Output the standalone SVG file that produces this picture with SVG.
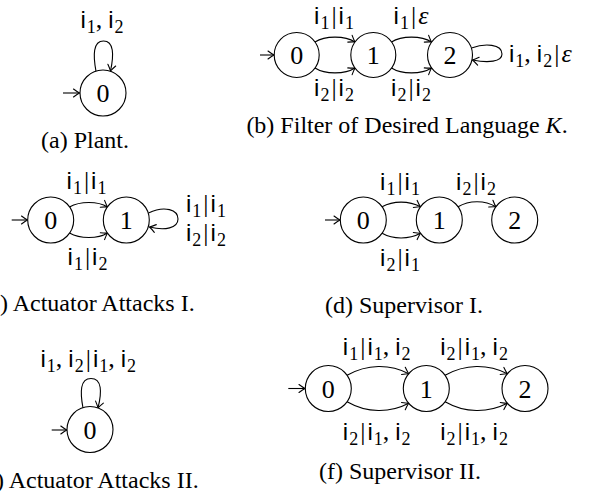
<svg xmlns="http://www.w3.org/2000/svg" width="598" height="497" viewBox="0 0 598 497">
<style>
.st{fill:none;stroke:#000;stroke-width:1.1}
.nd{fill:#fff;stroke:#000;stroke-width:1.1}
.nl{font-family:"Liberation Serif",serif;font-size:26px;text-anchor:middle;fill:#000}
.m{font-family:"Liberation Serif",serif;font-size:26px;fill:#000}
.i{font-family:"Liberation Sans",sans-serif;font-size:24px}
.s{font-family:"Liberation Serif",serif;font-size:18px}
.e{font-style:italic}
.cap{font-family:"Liberation Serif",serif;font-size:24px;fill:#000}
</style>
<defs>
<marker id="ah" viewBox="-8 -5 10 10" refX="0" refY="0" markerWidth="10" markerHeight="10" markerUnits="userSpaceOnUse" orient="auto">
<path d="M -6 -4 Q -2 -1 0 0 Q -2 1 -6 4" fill="none" stroke="#000" stroke-width="1.1" stroke-linecap="round"/>
</marker>
</defs>

<g id="connectors" class="st" marker-end="url(#ah)">
<path d="M 63 93 L 79.5 93"/>
<path d="M 96 71.3 C 93 55 93 41 103.5 41 C 114 41 114 55 110.5 71"/>
<path d="M 260 55 L 274 55"/>
<path d="M 315 42 C 325 35.5 345 35.5 355 42"/>
<path d="M 315 68 C 325 74.5 345 74.5 355 68"/>
<path d="M 391.5 42 C 401.5 35.5 421.5 35.5 431.5 42"/>
<path d="M 391.5 68 C 401.5 74.5 421.5 74.5 431.5 68"/>
<path d="M 471.5 48 C 485 43 502 44 502 54 C 502 62 488 63 472.5 60"/>
<path d="M 11.7 220 L 27.5 220"/>
<path d="M 69.5 207 C 80 201 98 201 107.5 207"/>
<path d="M 69.5 233 C 80 239 98 239 107.5 233"/>
<path d="M 148.5 213 C 165 205 178 210 178 219 C 178 228 165 231 149.5 227"/>
<path d="M 325 220 L 340 220"/>
<path d="M 382.1 206.8 C 393 200.5 409 200.5 420.5 206.8"/>
<path d="M 382.1 233.2 C 393 239.5 409 239.5 420.5 233.2"/>
<path d="M 458.1 206.8 C 469 200 485 200 495.9 206.8"/>
<path d="M 51.7 430 L 66.8 430"/>
<path d="M 83 408 C 80 392 80 378.5 91 378.5 C 102 378.5 102 392 98 407.9"/>
<path d="M 288.3 388.5 L 305 388.5"/>
<path d="M 347.1 375.3 C 367 363.8 390 363.8 408.7 373.7"/>
<path d="M 347.1 401.7 C 367 413.2 390 413.2 408.7 403.3"/>
<path d="M 445.1 375.3 C 465 363.8 488 363.8 507.4 373.7"/>
<path d="M 445.1 401.7 C 465 413.2 488 413.2 507.4 403.3"/>
</g>

<g id="a-n0"><circle class="nd" cx="103" cy="93" r="23"/><text class="nl" x="103" y="102">0</text></g>
<g id="a-labels">
<text class="m" x="102" y="28" text-anchor="middle"><tspan class="i">i</tspan><tspan class="s" dx="1" dy="5">1</tspan><tspan dy="-5">,</tspan><tspan class="i" dx="6">i</tspan><tspan class="s" dx="1" dy="5">2</tspan></text>
</g>
<text class="cap" x="85" y="148" text-anchor="middle">(a) Plant.</text>

<g id="b-n0"><circle class="nd" cx="296.7" cy="55" r="22.5"/><text class="nl" x="296.7" y="64">0</text></g>
<g id="b-n1"><circle class="nd" cx="373.3" cy="55" r="22.5"/><text class="nl" x="373.3" y="64">1</text></g>
<g id="b-n2"><circle class="nd" cx="450" cy="55" r="22.5"/><text class="nl" x="450" y="64">2</text></g>
<g id="b-labels">
<text class="m" x="334" y="24" text-anchor="middle"><tspan class="i">i</tspan><tspan class="s" dx="1" dy="5">1</tspan><tspan dx="2" dy="-5">|</tspan><tspan class="i" dx="2">i</tspan><tspan class="s" dx="1" dy="5">1</tspan></text>
<text class="m" x="411" y="24" text-anchor="middle"><tspan class="i">i</tspan><tspan class="s" dx="1" dy="5">1</tspan><tspan dx="2" dy="-5">|</tspan><tspan class="e" dx="2">ε</tspan></text>
<text class="m" x="334" y="96" text-anchor="middle"><tspan class="i">i</tspan><tspan class="s" dx="1" dy="5">2</tspan><tspan dx="2" dy="-5">|</tspan><tspan class="i" dx="2">i</tspan><tspan class="s" dx="1" dy="5">2</tspan></text>
<text class="m" x="411" y="96" text-anchor="middle"><tspan class="i">i</tspan><tspan class="s" dx="1" dy="5">2</tspan><tspan dx="2" dy="-5">|</tspan><tspan class="i" dx="2">i</tspan><tspan class="s" dx="1" dy="5">2</tspan></text>
<text class="m" x="509" y="62"><tspan class="i">i</tspan><tspan class="s" dx="1" dy="5">1</tspan><tspan dy="-5">,</tspan><tspan class="i" dx="6">i</tspan><tspan class="s" dx="1" dy="5">2</tspan><tspan dx="2" dy="-5">|</tspan><tspan class="e" dx="2">ε</tspan></text>
</g>
<text class="cap" x="407" y="133" text-anchor="middle">(b) Filter of Desired Language <tspan font-style="italic">K</tspan>.</text>

<g id="c-n0"><circle class="nd" cx="50.7" cy="220" r="23"/><text class="nl" x="50.7" y="229">0</text></g>
<g id="c-n1"><circle class="nd" cx="126.3" cy="220" r="23"/><text class="nl" x="126.3" y="229">1</text></g>
<g id="c-labels">
<text class="m" x="86.5" y="189" text-anchor="middle"><tspan class="i">i</tspan><tspan class="s" dx="1" dy="5">1</tspan><tspan dx="2" dy="-5">|</tspan><tspan class="i" dx="2">i</tspan><tspan class="s" dx="1" dy="5">1</tspan></text>
<text class="m" x="87.5" y="265" text-anchor="middle"><tspan class="i">i</tspan><tspan class="s" dx="1" dy="5">1</tspan><tspan dx="2" dy="-5">|</tspan><tspan class="i" dx="2">i</tspan><tspan class="s" dx="1" dy="5">2</tspan></text>
<text class="m" x="186" y="212"><tspan class="i">i</tspan><tspan class="s" dx="1" dy="5">1</tspan><tspan dx="2" dy="-5">|</tspan><tspan class="i" dx="2">i</tspan><tspan class="s" dx="1" dy="5">1</tspan></text>
<text class="m" x="186" y="241"><tspan class="i">i</tspan><tspan class="s" dx="1" dy="5">2</tspan><tspan dx="2" dy="-5">|</tspan><tspan class="i" dx="2">i</tspan><tspan class="s" dx="1" dy="5">2</tspan></text>
</g>
<text class="cap" x="88" y="311" text-anchor="middle">(c) Actuator Attacks I.</text>

<g id="d-n0"><circle class="nd" cx="363.3" cy="220" r="23"/><text class="nl" x="363.3" y="229">0</text></g>
<g id="d-n1"><circle class="nd" cx="439.3" cy="220" r="23"/><text class="nl" x="439.3" y="229">1</text></g>
<g id="d-n2"><circle class="nd" cx="514.7" cy="220" r="23"/><text class="nl" x="514.7" y="229">2</text></g>
<g id="d-labels">
<text class="m" x="400" y="190" text-anchor="middle"><tspan class="i">i</tspan><tspan class="s" dx="1" dy="5">1</tspan><tspan dx="2" dy="-5">|</tspan><tspan class="i" dx="2">i</tspan><tspan class="s" dx="1" dy="5">1</tspan></text>
<text class="m" x="476" y="190" text-anchor="middle"><tspan class="i">i</tspan><tspan class="s" dx="1" dy="5">2</tspan><tspan dx="2" dy="-5">|</tspan><tspan class="i" dx="2">i</tspan><tspan class="s" dx="1" dy="5">2</tspan></text>
<text class="m" x="400" y="266" text-anchor="middle"><tspan class="i">i</tspan><tspan class="s" dx="1" dy="5">2</tspan><tspan dx="2" dy="-5">|</tspan><tspan class="i" dx="2">i</tspan><tspan class="s" dx="1" dy="5">1</tspan></text>
</g>
<text class="cap" x="404" y="313" text-anchor="middle">(d) Supervisor I.</text>

<g id="e-n0"><circle class="nd" cx="90" cy="429.5" r="23"/><text class="nl" x="90" y="438.5">0</text></g>
<g id="e-labels">
<text class="m" x="88.3" y="366.7" text-anchor="middle"><tspan class="i">i</tspan><tspan class="s" dx="1" dy="5">1</tspan><tspan dy="-5">,</tspan><tspan class="i" dx="6">i</tspan><tspan class="s" dx="1" dy="5">2</tspan><tspan dx="2" dy="-5">|</tspan><tspan class="i" dx="2">i</tspan><tspan class="s" dx="1" dy="5">1</tspan><tspan dy="-5">,</tspan><tspan class="i" dx="6">i</tspan><tspan class="s" dx="1" dy="5">2</tspan></text>
</g>
<text class="cap" x="88" y="488" text-anchor="middle">(e) Actuator Attacks II.</text>

<g id="f-n0"><circle class="nd" cx="328.3" cy="388.5" r="23"/><text class="nl" x="328.3" y="397.5">0</text></g>
<g id="f-n1"><circle class="nd" cx="426.3" cy="388.5" r="23"/><text class="nl" x="426.3" y="397.5">1</text></g>
<g id="f-n2"><circle class="nd" cx="525" cy="388.5" r="23"/><text class="nl" x="525" y="397.5">2</text></g>
<g id="f-labels">
<text class="m" x="376.7" y="355" text-anchor="middle"><tspan class="i">i</tspan><tspan class="s" dx="1" dy="5">1</tspan><tspan dx="2" dy="-5">|</tspan><tspan class="i" dx="2">i</tspan><tspan class="s" dx="1" dy="5">1</tspan><tspan dy="-5">,</tspan><tspan class="i" dx="6">i</tspan><tspan class="s" dx="1" dy="5">2</tspan></text>
<text class="m" x="474" y="355" text-anchor="middle"><tspan class="i">i</tspan><tspan class="s" dx="1" dy="5">2</tspan><tspan dx="2" dy="-5">|</tspan><tspan class="i" dx="2">i</tspan><tspan class="s" dx="1" dy="5">1</tspan><tspan dy="-5">,</tspan><tspan class="i" dx="6">i</tspan><tspan class="s" dx="1" dy="5">2</tspan></text>
<text class="m" x="376.7" y="440" text-anchor="middle"><tspan class="i">i</tspan><tspan class="s" dx="1" dy="5">2</tspan><tspan dx="2" dy="-5">|</tspan><tspan class="i" dx="2">i</tspan><tspan class="s" dx="1" dy="5">1</tspan><tspan dy="-5">,</tspan><tspan class="i" dx="6">i</tspan><tspan class="s" dx="1" dy="5">2</tspan></text>
<text class="m" x="474" y="440" text-anchor="middle"><tspan class="i">i</tspan><tspan class="s" dx="1" dy="5">2</tspan><tspan dx="2" dy="-5">|</tspan><tspan class="i" dx="2">i</tspan><tspan class="s" dx="1" dy="5">1</tspan><tspan dy="-5">,</tspan><tspan class="i" dx="6">i</tspan><tspan class="s" dx="1" dy="5">2</tspan></text>
</g>
<text class="cap" x="400" y="479" text-anchor="middle">(f) Supervisor II.</text>
</svg>
